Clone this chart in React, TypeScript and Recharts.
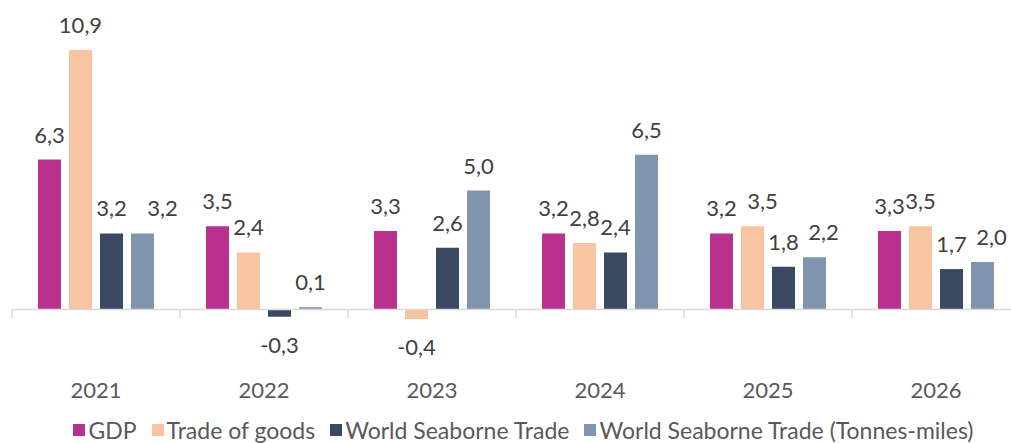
import { BarChart, Bar, XAxis, YAxis, ReferenceLine, Legend, LabelList } from 'recharts';

const years = ['2021', '2022', '2023', '2024', '2025', '2026'];
const gdp = [6.3, 3.5, 3.3, 3.2, 3.2, 3.3];
const tradeOfGoods = [10.9, 2.4, -0.4, 2.8, 3.5, 3.5];
const seaborneTrade = [3.2, -0.3, 2.6, 2.4, 1.8, 1.7];
const seaborneTonneMiles = [3.2, 0.1, 5.0, 6.5, 2.2, 2.0];

const series = [
  { key: 'gdp', name: 'GDP', color: '#b9308f' },
  { key: 'trade', name: 'Trade of goods', color: '#f8c3a0' },
  { key: 'seaborne', name: 'World Seaborne Trade', color: '#3a4961' },
  { key: 'tonneMiles', name: 'World Seaborne Trade (Tonnes-miles)', color: '#8194ae' },
];

const data = years.map((year, i) => ({
  year,
  gdp: gdp[i],
  trade: tradeOfGoods[i],
  seaborne: seaborneTrade[i],
  tonneMiles: seaborneTonneMiles[i],
}));

const FONT = 'Lato, "Noto Sans", sans-serif';
const WIDTH = 1022;
const HEIGHT = 443;
const MARGIN = { top: 12, right: 2, bottom: 0, left: 12 };
const X_AXIS_H = 24;
const LEGEND_H = 38;
const Y_MIN = -3;
const Y_MAX = 12.5;

// where the zero line sits, so the category separators can hang off it
const plotH = HEIGHT - MARGIN.top - MARGIN.bottom - X_AXIS_H - LEGEND_H;
const zeroY = MARGIN.top + (Y_MAX / (Y_MAX - Y_MIN)) * plotH;

// the original nudged a few crowded labels sideways
const labelNudge: Record<string, number> = {
  'tonneMiles-0': 20,
  'trade-4': 10,
  'tonneMiles-4': 9,
  'tonneMiles-5': 9,
};

const fmt = (v: number) => v.toFixed(1).replace('.', ',');

function ValueLabel(props: any) {
  const { x, y, width, height, value, index, seriesKey } = props;
  const top = Math.min(y, y + height);
  const bottom = Math.max(y, y + height);
  const ty = value < 0 ? bottom + 36 : top - 17;
  const dx = labelNudge[`${seriesKey}-${index}`] ?? 0;
  return (
    <text x={x + width / 2 + dx} y={ty} textAnchor="middle" fill="#404040" fontSize={22} fontFamily={FONT}>
      {fmt(value)}
    </text>
  );
}

function YearTick(props: any) {
  const { x, y, payload, index } = props;
  const half = payload.offset ?? 0;
  return (
    <g>
      <line x1={x - half} x2={x - half} y1={zeroY} y2={zeroY + 9} stroke="#d9d9d9" strokeWidth={1.5} />
      {index === years.length - 1 && (
        <line x1={x + half} x2={x + half} y1={zeroY} y2={zeroY + 9} stroke="#d9d9d9" strokeWidth={1.5} />
      )}
      <text x={x} y={y} dy={17} textAnchor="middle" fill="#595959" fontSize={22} fontFamily={FONT}>
        {payload.value}
      </text>
    </g>
  );
}

function LegendContent() {
  return (
    <div
      style={{
        display: 'flex',
        justifyContent: 'center',
        alignItems: 'center',
        paddingTop: 15,
        paddingLeft: 30,
        fontFamily: FONT,
        fontSize: 23,
        lineHeight: '20px',
        color: '#595959',
        whiteSpace: 'nowrap',
      }}
    >
      {series.map((s) => (
        <span key={s.key} style={{ display: 'inline-flex', alignItems: 'center', marginRight: 15 }}>
          <span style={{ display: 'inline-block', width: 12, height: 12, background: s.color, marginRight: 3 }} />
          {s.name}
        </span>
      ))}
    </div>
  );
}

export default function App() {
  return (
    <div style={{ position: 'fixed', left: 0, top: 0, width: 1011, height: HEIGHT, overflow: 'hidden', background: '#fff' }}>
      <BarChart width={WIDTH} height={HEIGHT} data={data} margin={MARGIN} barCategoryGap={26} barGap={8}>
        <XAxis
          dataKey="year"
          axisLine={false}
          tickLine={false}
          tickSize={0}
          tickMargin={0}
          height={X_AXIS_H}
          interval={0}
          tick={<YearTick />}
        />
        <YAxis hide domain={[Y_MIN, Y_MAX]} allowDataOverflow />
        <ReferenceLine y={0} stroke="#d9d9d9" strokeWidth={1.5} />
        <Legend verticalAlign="bottom" height={LEGEND_H} content={<LegendContent />} />
        {series.map((s) => (
          <Bar key={s.key} dataKey={s.key} name={s.name} fill={s.color} isAnimationActive={false}>
            <LabelList dataKey={s.key} content={<ValueLabel seriesKey={s.key} />} />
          </Bar>
        ))}
      </BarChart>
    </div>
  );
}
